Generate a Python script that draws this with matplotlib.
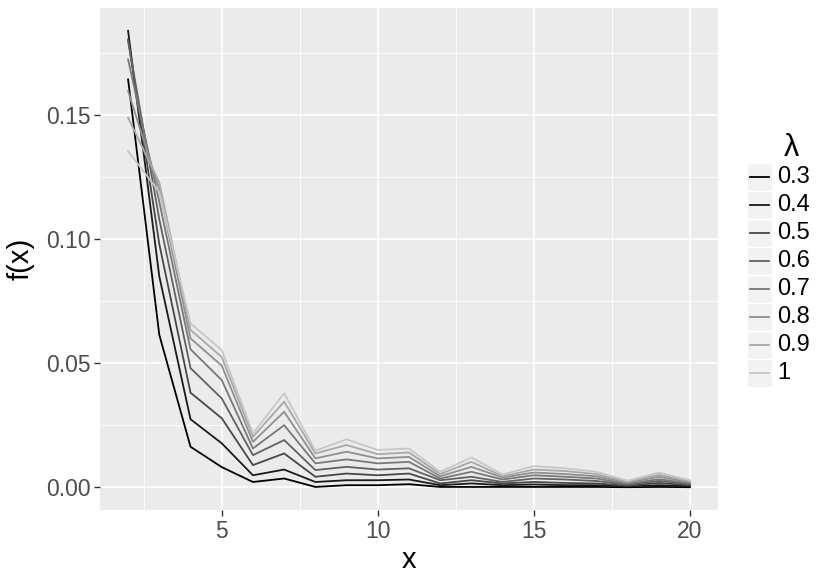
import matplotlib.pyplot as plt
from matplotlib.patches import Rectangle
from matplotlib.lines import Line2D

plt.rcParams['font.family'] = ['Liberation Sans', 'DejaVu Sans']

x = list(range(2, 21))
lambdas = ["0.3", "0.4", "0.5", "0.6", "0.7", "0.8", "0.9", "1"]

# f(x), one list per lambda
f_03 = [0.1644, 0.0614, 0.0163, 0.0081, 0.0021, 0.0035, 0.0001, 0.0008, 0.0008, 0.0012,
        0.0001, 0.0001, 0.0001, 0.0001, 0.0001, 0.0001, 0.0000, 0.0001, 0.0000]
f_04 = [0.1840, 0.0850, 0.0274, 0.0177, 0.0048, 0.0071, 0.0021, 0.0028, 0.0028, 0.0031,
        0.0008, 0.0015, 0.0008, 0.0011, 0.0008, 0.0008, 0.0003, 0.0008, 0.0004]
f_05 = [0.1806, 0.0980, 0.0381, 0.0278, 0.0089, 0.0136, 0.0042, 0.0055, 0.0048, 0.0055,
        0.0015, 0.0028, 0.0015, 0.0021, 0.0017, 0.0015, 0.0006, 0.0017, 0.0008]
f_06 = [0.1799, 0.1080, 0.0480, 0.0358, 0.0129, 0.0190, 0.0069, 0.0082, 0.0071, 0.0076,
        0.0028, 0.0042, 0.0021, 0.0035, 0.0031, 0.0025, 0.0010, 0.0025, 0.0012]
f_07 = [0.1725, 0.1150, 0.0556, 0.0432, 0.0156, 0.0250, 0.0096, 0.0112, 0.0096, 0.0102,
        0.0035, 0.0062, 0.0031, 0.0048, 0.0042, 0.0035, 0.0014, 0.0032, 0.0016]
f_08 = [0.1597, 0.1200, 0.0600, 0.0490, 0.0183, 0.0304, 0.0116, 0.0143, 0.0116, 0.0122,
        0.0044, 0.0082, 0.0039, 0.0059, 0.0053, 0.0044, 0.0018, 0.0042, 0.0020]
f_09 = [0.1490, 0.1228, 0.0634, 0.0525, 0.0203, 0.0345, 0.0136, 0.0170, 0.0133, 0.0140,
        0.0053, 0.0102, 0.0044, 0.0071, 0.0065, 0.0053, 0.0022, 0.0050, 0.0024]
f_10 = [0.1355, 0.1190, 0.0660, 0.0553, 0.0217, 0.0379, 0.0147, 0.0193, 0.0150, 0.0156,
        0.0062, 0.0120, 0.0051, 0.0085, 0.0076, 0.0062, 0.0026, 0.0059, 0.0028]
series = [f_03, f_04, f_05, f_06, f_07, f_08, f_09, f_10]

greys = [0.0, 0.1, 0.28, 0.38, 0.47, 0.56, 0.66, 0.78]

fig = plt.figure(figsize=(8.3, 5.77), dpi=100)
ax = fig.add_axes([100 / 830, 1 - 510 / 577, 618 / 830, 502 / 577])
ax.set_facecolor('#EBEBEB')
for s in ax.spines.values():
    s.set_visible(False)

for vals, g in zip(series, greys):
    ax.plot(x, vals, color=str(g), linewidth=1.3, zorder=3)

ax.set_xlim(1.1, 20.9)
ax.set_ylim(-0.0092, 0.1932)
ax.set_xticks([5, 10, 15, 20])
ax.set_xticks([2.5, 7.5, 12.5, 17.5], minor=True)
ax.set_yticks([0.0, 0.05, 0.10, 0.15])
ax.set_yticks([0.025, 0.075, 0.125, 0.175], minor=True)
ax.set_yticklabels(["0.00", "0.05", "0.10", "0.15"])
ax.grid(True, which='major', color='white', linewidth=1.2, zorder=0)
ax.grid(True, which='minor', color='white', linewidth=0.6, zorder=0)
ax.set_axisbelow(True)
ax.tick_params(which='major', length=4, width=1, color='#333333',
               labelsize=16.5, labelcolor='#4D4D4D', pad=3)
ax.tick_params(which='minor', length=0)
ax.set_xlabel("x", fontsize=21, labelpad=2)
ax.set_ylabel("f(x)", fontsize=21, labelpad=8)

# legend drawn by hand, ggplot style
fig.text(791 / 830, 1 - 148 / 577, "λ", fontsize=22, ha='center', va='center')
for i, (lab, g) in enumerate(zip(lambdas, greys)):
    yc = 177 + i * 28
    fig.patches.append(Rectangle((747 / 830, 1 - (yc + 14) / 577), 25 / 830, 28 / 577,
                                 transform=fig.transFigure, facecolor='#F2F2F2',
                                 edgecolor='white', linewidth=1))
    fig.lines.append(Line2D([750 / 830, 769 / 830], [1 - yc / 577, 1 - yc / 577],
                            transform=fig.transFigure, color=str(g), linewidth=1.3))
    fig.text(777 / 830, 1 - yc / 577, lab, fontsize=17, ha='left', va='center')

fig.savefig("out.png", dpi=100)
